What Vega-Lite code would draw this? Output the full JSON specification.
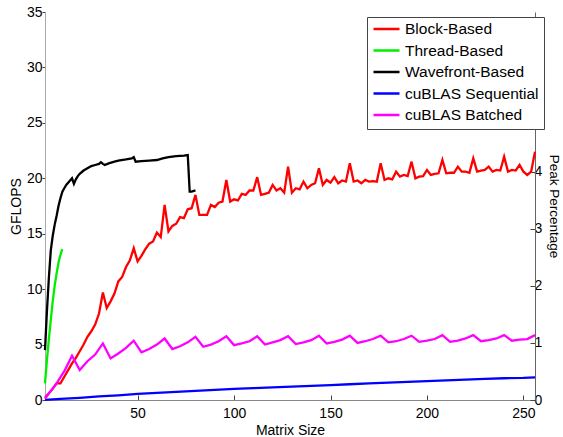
{
  "$schema": "https://vega.github.io/schema/vega-lite/v6.json",
  "width": 490,
  "height": 388,
  "autosize": {"type": "none"},
  "padding": {"left": 45, "top": 12, "right": 28, "bottom": 37},
  "background": "white",
  "config": {
    "font": "Liberation Sans",
    "view": {"stroke": null},
    "axis": {"grid": false, "labelFontSize": 14, "titleFontSize": 14, "labelColor": "black", "titleColor": "black", "titleFontWeight": "normal", "tickColor": "#444", "domainColor": "#999", "labelFont": "Liberation Sans", "titleFont": "Liberation Sans"}
  },
  "datasets": {
    "lines": [
      {"s":"Block-Based","x":2,"y":0.2},{"s":"Block-Based","x":4,"y":0.6},{"s":"Block-Based","x":6,"y":1.0},{"s":"Block-Based","x":8,"y":1.5},{"s":"Block-Based","x":10,"y":1.5},{"s":"Block-Based","x":12,"y":2.1},{"s":"Block-Based","x":14,"y":2.7},{"s":"Block-Based","x":16,"y":3.3},{"s":"Block-Based","x":18,"y":3.8},{"s":"Block-Based","x":20,"y":4.4},{"s":"Block-Based","x":22,"y":5.0},{"s":"Block-Based","x":24,"y":5.7},{"s":"Block-Based","x":26,"y":6.2},{"s":"Block-Based","x":28,"y":6.8},{"s":"Block-Based","x":30,"y":7.8},{"s":"Block-Based","x":32,"y":9.7},{"s":"Block-Based","x":34,"y":8.3},{"s":"Block-Based","x":36,"y":8.9},{"s":"Block-Based","x":38,"y":9.6},{"s":"Block-Based","x":40,"y":10.7},{"s":"Block-Based","x":42,"y":11.1},{"s":"Block-Based","x":44,"y":12.0},{"s":"Block-Based","x":46,"y":12.6},{"s":"Block-Based","x":48,"y":13.7},{"s":"Block-Based","x":50,"y":12.5},{"s":"Block-Based","x":52,"y":13.0},{"s":"Block-Based","x":54,"y":13.6},{"s":"Block-Based","x":56,"y":14.1},{"s":"Block-Based","x":58,"y":14.3},{"s":"Block-Based","x":60,"y":15.1},{"s":"Block-Based","x":62,"y":14.7},{"s":"Block-Based","x":64,"y":17.6},{"s":"Block-Based","x":66,"y":15.2},{"s":"Block-Based","x":68,"y":15.7},{"s":"Block-Based","x":70,"y":15.9},{"s":"Block-Based","x":72,"y":16.5},{"s":"Block-Based","x":74,"y":16.4},{"s":"Block-Based","x":76,"y":17.2},{"s":"Block-Based","x":78,"y":17.3},{"s":"Block-Based","x":80,"y":18.5},{"s":"Block-Based","x":82,"y":16.7},{"s":"Block-Based","x":84,"y":16.7},{"s":"Block-Based","x":86,"y":16.7},{"s":"Block-Based","x":88,"y":17.6},{"s":"Block-Based","x":90,"y":17.4},{"s":"Block-Based","x":92,"y":17.8},{"s":"Block-Based","x":94,"y":17.9},{"s":"Block-Based","x":96,"y":19.85},{"s":"Block-Based","x":98,"y":17.9},{"s":"Block-Based","x":100,"y":18.1},{"s":"Block-Based","x":102,"y":18.0},{"s":"Block-Based","x":104,"y":18.6},{"s":"Block-Based","x":106,"y":18.5},{"s":"Block-Based","x":108,"y":18.9},{"s":"Block-Based","x":110,"y":18.9},{"s":"Block-Based","x":112,"y":20.1},{"s":"Block-Based","x":114,"y":18.5},{"s":"Block-Based","x":116,"y":18.6},{"s":"Block-Based","x":118,"y":18.7},{"s":"Block-Based","x":120,"y":19.4},{"s":"Block-Based","x":122,"y":18.9},{"s":"Block-Based","x":124,"y":19.1},{"s":"Block-Based","x":126,"y":18.7},{"s":"Block-Based","x":128,"y":21.05},{"s":"Block-Based","x":130,"y":18.7},{"s":"Block-Based","x":132,"y":19.1},{"s":"Block-Based","x":134,"y":19.0},{"s":"Block-Based","x":136,"y":19.7},{"s":"Block-Based","x":138,"y":19.1},{"s":"Block-Based","x":140,"y":19.4},{"s":"Block-Based","x":142,"y":19.55},{"s":"Block-Based","x":144,"y":20.9},{"s":"Block-Based","x":146,"y":19.4},{"s":"Block-Based","x":148,"y":19.85},{"s":"Block-Based","x":150,"y":19.6},{"s":"Block-Based","x":152,"y":20.1},{"s":"Block-Based","x":154,"y":19.55},{"s":"Block-Based","x":156,"y":19.8},{"s":"Block-Based","x":158,"y":19.7},{"s":"Block-Based","x":160,"y":21.35},{"s":"Block-Based","x":162,"y":19.7},{"s":"Block-Based","x":164,"y":19.8},{"s":"Block-Based","x":166,"y":19.55},{"s":"Block-Based","x":168,"y":19.85},{"s":"Block-Based","x":170,"y":19.7},{"s":"Block-Based","x":172,"y":19.75},{"s":"Block-Based","x":174,"y":19.7},{"s":"Block-Based","x":176,"y":21.35},{"s":"Block-Based","x":178,"y":19.85},{"s":"Block-Based","x":180,"y":20.0},{"s":"Block-Based","x":182,"y":19.9},{"s":"Block-Based","x":184,"y":20.6},{"s":"Block-Based","x":186,"y":20.15},{"s":"Block-Based","x":188,"y":20.3},{"s":"Block-Based","x":190,"y":20.2},{"s":"Block-Based","x":192,"y":21.5},{"s":"Block-Based","x":194,"y":20.0},{"s":"Block-Based","x":196,"y":20.15},{"s":"Block-Based","x":198,"y":20.2},{"s":"Block-Based","x":200,"y":20.75},{"s":"Block-Based","x":202,"y":20.3},{"s":"Block-Based","x":204,"y":20.4},{"s":"Block-Based","x":206,"y":20.45},{"s":"Block-Based","x":208,"y":21.65},{"s":"Block-Based","x":210,"y":20.45},{"s":"Block-Based","x":212,"y":20.5},{"s":"Block-Based","x":214,"y":20.5},{"s":"Block-Based","x":216,"y":21.05},{"s":"Block-Based","x":218,"y":20.6},{"s":"Block-Based","x":220,"y":20.6},{"s":"Block-Based","x":222,"y":20.5},{"s":"Block-Based","x":224,"y":21.8},{"s":"Block-Based","x":226,"y":20.6},{"s":"Block-Based","x":228,"y":20.7},{"s":"Block-Based","x":230,"y":20.75},{"s":"Block-Based","x":232,"y":21.05},{"s":"Block-Based","x":234,"y":20.6},{"s":"Block-Based","x":236,"y":20.75},{"s":"Block-Based","x":238,"y":20.7},{"s":"Block-Based","x":240,"y":21.95},{"s":"Block-Based","x":242,"y":20.6},{"s":"Block-Based","x":244,"y":20.75},{"s":"Block-Based","x":246,"y":20.7},{"s":"Block-Based","x":248,"y":21.2},{"s":"Block-Based","x":250,"y":20.6},{"s":"Block-Based","x":252,"y":20.3},{"s":"Block-Based","x":254,"y":20.6},{"s":"Block-Based","x":256,"y":22.4},
      {"s":"Thread-Based","x":2,"y":1.5},{"s":"Thread-Based","x":3,"y":3.6},{"s":"Thread-Based","x":4,"y":5.5},{"s":"Thread-Based","x":5,"y":7.2},{"s":"Thread-Based","x":6,"y":8.9},{"s":"Thread-Based","x":7,"y":10.3},{"s":"Thread-Based","x":8,"y":11.4},{"s":"Thread-Based","x":9,"y":12.4},{"s":"Thread-Based","x":10,"y":13.1},{"s":"Thread-Based","x":11,"y":13.6},
      {"s":"Wavefront-Based","x":2,"y":4.5},{"s":"Wavefront-Based","x":3,"y":8.0},{"s":"Wavefront-Based","x":4,"y":11.0},{"s":"Wavefront-Based","x":5,"y":13.5},{"s":"Wavefront-Based","x":6,"y":14.8},{"s":"Wavefront-Based","x":7,"y":15.8},{"s":"Wavefront-Based","x":8,"y":16.6},{"s":"Wavefront-Based","x":9,"y":17.5},{"s":"Wavefront-Based","x":10,"y":18.2},{"s":"Wavefront-Based","x":11,"y":18.8},{"s":"Wavefront-Based","x":12,"y":19.1},{"s":"Wavefront-Based","x":13,"y":19.4},{"s":"Wavefront-Based","x":14,"y":19.6},{"s":"Wavefront-Based","x":15,"y":19.8},{"s":"Wavefront-Based","x":16,"y":20.0},{"s":"Wavefront-Based","x":17,"y":19.5},{"s":"Wavefront-Based","x":18,"y":19.9},{"s":"Wavefront-Based","x":19,"y":20.2},{"s":"Wavefront-Based","x":20,"y":20.4},{"s":"Wavefront-Based","x":22,"y":20.7},{"s":"Wavefront-Based","x":24,"y":20.9},{"s":"Wavefront-Based","x":26,"y":21.1},{"s":"Wavefront-Based","x":28,"y":21.2},{"s":"Wavefront-Based","x":30,"y":21.3},{"s":"Wavefront-Based","x":31,"y":21.45},{"s":"Wavefront-Based","x":32,"y":21.3},{"s":"Wavefront-Based","x":33,"y":21.2},{"s":"Wavefront-Based","x":35,"y":21.35},{"s":"Wavefront-Based","x":38,"y":21.5},{"s":"Wavefront-Based","x":40,"y":21.6},{"s":"Wavefront-Based","x":44,"y":21.7},{"s":"Wavefront-Based","x":47,"y":21.8},{"s":"Wavefront-Based","x":48,"y":21.9},{"s":"Wavefront-Based","x":49,"y":21.5},{"s":"Wavefront-Based","x":52,"y":21.55},{"s":"Wavefront-Based","x":56,"y":21.6},{"s":"Wavefront-Based","x":60,"y":21.65},{"s":"Wavefront-Based","x":63,"y":21.8},{"s":"Wavefront-Based","x":66,"y":21.9},{"s":"Wavefront-Based","x":70,"y":22.0},{"s":"Wavefront-Based","x":74,"y":22.05},{"s":"Wavefront-Based","x":76,"y":22.1},{"s":"Wavefront-Based","x":77,"y":18.8},{"s":"Wavefront-Based","x":78,"y":18.8},{"s":"Wavefront-Based","x":80,"y":18.9},
      {"s":"cuBLAS Sequential","x":2,"y":0.02},{"s":"cuBLAS Sequential","x":10,"y":0.1},{"s":"cuBLAS Sequential","x":20,"y":0.2},{"s":"cuBLAS Sequential","x":30,"y":0.32},{"s":"cuBLAS Sequential","x":40,"y":0.42},{"s":"cuBLAS Sequential","x":50,"y":0.55},{"s":"cuBLAS Sequential","x":60,"y":0.64},{"s":"cuBLAS Sequential","x":70,"y":0.73},{"s":"cuBLAS Sequential","x":80,"y":0.82},{"s":"cuBLAS Sequential","x":90,"y":0.92},{"s":"cuBLAS Sequential","x":100,"y":1.0},{"s":"cuBLAS Sequential","x":110,"y":1.07},{"s":"cuBLAS Sequential","x":120,"y":1.13},{"s":"cuBLAS Sequential","x":130,"y":1.2},{"s":"cuBLAS Sequential","x":140,"y":1.28},{"s":"cuBLAS Sequential","x":150,"y":1.35},{"s":"cuBLAS Sequential","x":160,"y":1.42},{"s":"cuBLAS Sequential","x":170,"y":1.5},{"s":"cuBLAS Sequential","x":180,"y":1.57},{"s":"cuBLAS Sequential","x":190,"y":1.64},{"s":"cuBLAS Sequential","x":200,"y":1.71},{"s":"cuBLAS Sequential","x":210,"y":1.77},{"s":"cuBLAS Sequential","x":220,"y":1.84},{"s":"cuBLAS Sequential","x":230,"y":1.9},{"s":"cuBLAS Sequential","x":240,"y":1.96},{"s":"cuBLAS Sequential","x":250,"y":2.0},{"s":"cuBLAS Sequential","x":256,"y":2.05},
      {"s":"cuBLAS Batched","x":2,"y":0.1},{"s":"cuBLAS Batched","x":4,"y":0.6},{"s":"cuBLAS Batched","x":8,"y":1.5},{"s":"cuBLAS Batched","x":12,"y":2.6},{"s":"cuBLAS Batched","x":16,"y":4.0},{"s":"cuBLAS Batched","x":20,"y":2.7},{"s":"cuBLAS Batched","x":24,"y":3.5},{"s":"cuBLAS Batched","x":28,"y":4.1},{"s":"cuBLAS Batched","x":32,"y":5.1},{"s":"cuBLAS Batched","x":36,"y":3.75},{"s":"cuBLAS Batched","x":40,"y":4.2},{"s":"cuBLAS Batched","x":44,"y":4.7},{"s":"cuBLAS Batched","x":48,"y":5.35},{"s":"cuBLAS Batched","x":52,"y":4.3},{"s":"cuBLAS Batched","x":56,"y":4.6},{"s":"cuBLAS Batched","x":60,"y":5.0},{"s":"cuBLAS Batched","x":64,"y":5.55},{"s":"cuBLAS Batched","x":68,"y":4.6},{"s":"cuBLAS Batched","x":72,"y":4.85},{"s":"cuBLAS Batched","x":76,"y":5.2},{"s":"cuBLAS Batched","x":80,"y":5.7},{"s":"cuBLAS Batched","x":84,"y":4.8},{"s":"cuBLAS Batched","x":88,"y":5.0},{"s":"cuBLAS Batched","x":92,"y":5.3},{"s":"cuBLAS Batched","x":96,"y":5.75},{"s":"cuBLAS Batched","x":100,"y":4.95},{"s":"cuBLAS Batched","x":104,"y":5.1},{"s":"cuBLAS Batched","x":108,"y":5.3},{"s":"cuBLAS Batched","x":112,"y":5.75},{"s":"cuBLAS Batched","x":116,"y":5.0},{"s":"cuBLAS Batched","x":120,"y":5.2},{"s":"cuBLAS Batched","x":124,"y":5.4},{"s":"cuBLAS Batched","x":128,"y":5.75},{"s":"cuBLAS Batched","x":132,"y":5.05},{"s":"cuBLAS Batched","x":136,"y":5.2},{"s":"cuBLAS Batched","x":140,"y":5.4},{"s":"cuBLAS Batched","x":144,"y":5.8},{"s":"cuBLAS Batched","x":148,"y":5.1},{"s":"cuBLAS Batched","x":152,"y":5.25},{"s":"cuBLAS Batched","x":156,"y":5.45},{"s":"cuBLAS Batched","x":160,"y":5.8},{"s":"cuBLAS Batched","x":164,"y":5.15},{"s":"cuBLAS Batched","x":168,"y":5.3},{"s":"cuBLAS Batched","x":172,"y":5.5},{"s":"cuBLAS Batched","x":176,"y":5.8},{"s":"cuBLAS Batched","x":180,"y":5.2},{"s":"cuBLAS Batched","x":184,"y":5.3},{"s":"cuBLAS Batched","x":188,"y":5.5},{"s":"cuBLAS Batched","x":192,"y":5.8},{"s":"cuBLAS Batched","x":196,"y":5.25},{"s":"cuBLAS Batched","x":200,"y":5.35},{"s":"cuBLAS Batched","x":204,"y":5.5},{"s":"cuBLAS Batched","x":208,"y":5.85},{"s":"cuBLAS Batched","x":212,"y":5.25},{"s":"cuBLAS Batched","x":216,"y":5.35},{"s":"cuBLAS Batched","x":220,"y":5.55},{"s":"cuBLAS Batched","x":224,"y":5.85},{"s":"cuBLAS Batched","x":228,"y":5.3},{"s":"cuBLAS Batched","x":232,"y":5.4},{"s":"cuBLAS Batched","x":236,"y":5.55},{"s":"cuBLAS Batched","x":240,"y":5.85},{"s":"cuBLAS Batched","x":244,"y":5.35},{"s":"cuBLAS Batched","x":248,"y":5.45},{"s":"cuBLAS Batched","x":252,"y":5.5},{"s":"cuBLAS Batched","x":256,"y":5.85}
    ],
    "pct": [{"pct": 0}, {"pct": 6.796}]
  },
  "layer": [
    {
      "data": {"name": "lines"},
      "mark": {"type": "line", "strokeWidth": 2.3},
      "encoding": {
        "x": {"field": "x", "type": "quantitative", "scale": {"domain": [2, 256], "nice": false, "zero": false},
              "axis": {"title": "Matrix Size", "values": [50, 100, 150, 200, 250], "tickSize": -5, "labelPadding": 11, "titlePadding": 3, "domainColor": "#888"}},
        "y": {"field": "y", "type": "quantitative", "scale": {"domain": [0, 35], "nice": false},
              "axis": {"title": "GFLOPS", "values": [0, 5, 10, 15, 20, 25, 30, 35], "tickSize": 3, "labelPadding": 0, "titlePadding": 3, "domainColor": "#aaa"}},
        "color": {"field": "s", "type": "nominal",
                  "scale": {"domain": ["Block-Based", "Thread-Based", "Wavefront-Based", "cuBLAS Sequential", "cuBLAS Batched"],
                            "range": ["#ff0000", "#00ee00", "#000000", "#0000ff", "#ff00ff"]},
                  "legend": {"title": null, "orient": "none", "legendX": 322, "legendY": 5, "symbolType": "stroke", "symbolSize": 676, "symbolStrokeWidth": 2.5, "labelFontSize": 15.5, "labelFont": "Liberation Sans", "labelColor": "black", "strokeColor": "#444", "fillColor": "white", "padding": 5, "rowPadding": 5.5, "clipHeight": 14, "labelOffset": 4, "labelLimit": 300}}
      }
    },
    {
      "data": {"name": "pct"},
      "mark": {"type": "point", "opacity": 0},
      "encoding": {
        "y": {"field": "pct", "type": "quantitative", "scale": {"domain": [0, 6.796], "nice": false},
              "axis": {"orient": "right", "title": "Peak Percentage", "titleFontSize": 13.5, "values": [0, 1, 2, 3, 4, 5, 6], "tickSize": -5, "labelPadding": 4, "titlePadding": 5, "domainColor": "#666"}}
      }
    }
  ],
  "resolve": {"scale": {"y": "independent"}}
}
